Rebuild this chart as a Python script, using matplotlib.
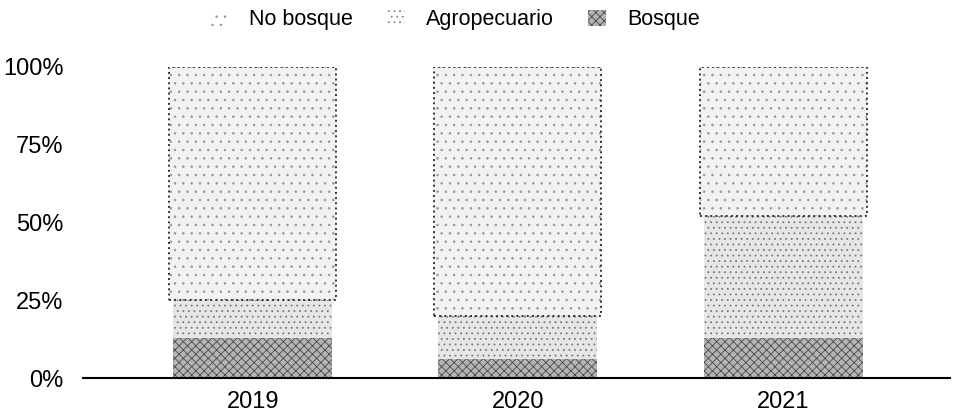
import numpy as np
import matplotlib.pyplot as plt
from matplotlib.patches import Patch

plt.rcParams['font.family'] = ['Liberation Sans', 'DejaVu Sans']
plt.rcParams['hatch.linewidth'] = 0.6

years = ['2019', '2020', '2021']
bosque = [13, 6, 13]
agropecuario = [12, 14, 39]
no_bosque = [75, 80, 48]

x = np.arange(len(years))
b = np.array(bosque) / 100
a = np.array(agropecuario) / 100
n = np.array(no_bosque) / 100

fig = plt.figure(figsize=(9.54, 4.16), dpi=100)
ax = fig.add_axes([0.087, 0.091, 0.909, 0.748])

w = 0.6
# bosque - dense cross hatch
ax.bar(x, b, w, color='#b4b4b4', edgecolor='#4a4a4a', hatch='xxxx', linewidth=0)
# agropecuario - light stipple
ax.bar(x, a, w, bottom=b, color='#e6e6e6', edgecolor='#7a7a7a', hatch='...', linewidth=0)
# no bosque - sparse stipple with dotted outline
ax.bar(x, n, w + 0.03, bottom=b + a, color='#f2f2f2', edgecolor='#999999', hatch='..', linewidth=0)
ax.bar(x, n, w + 0.03, bottom=b + a, fill=False, edgecolor='#333333', linestyle=':', linewidth=1.4)

ax.set_xlim(-0.64, 2.63)
ax.set_ylim(0, 1)
ax.set_xticks(x)
ax.set_xticklabels(years, fontsize=17)
ax.set_yticks([0, 0.25, 0.5, 0.75, 1.0])
ax.set_yticklabels(['0%', '25%', '50%', '75%', '100%'], fontsize=17)
ax.tick_params(axis='x', length=0, pad=9)
ax.tick_params(axis='y', length=0, pad=14)
for s in ['top', 'right', 'left']:
    ax.spines[s].set_visible(False)
ax.spines['bottom'].set_linewidth(1.5)

handles = [Patch(facecolor='white', edgecolor='#999999', hatch='..', linewidth=0),
           Patch(facecolor='white', edgecolor='#888888', hatch='...', linewidth=0),
           Patch(facecolor='#b4b4b4', edgecolor='#444444', hatch='xxxx', linewidth=0)]
fig.legend(handles, ['No bosque', 'Agropecuario', 'Bosque'], loc='center',
           bbox_to_anchor=(0.477, 0.952), ncol=3, frameon=False, fontsize=15.5,
           handlelength=0.8, handleheight=0.8, columnspacing=1.6, handletextpad=1.0)

fig.savefig('out.png', dpi=100)
